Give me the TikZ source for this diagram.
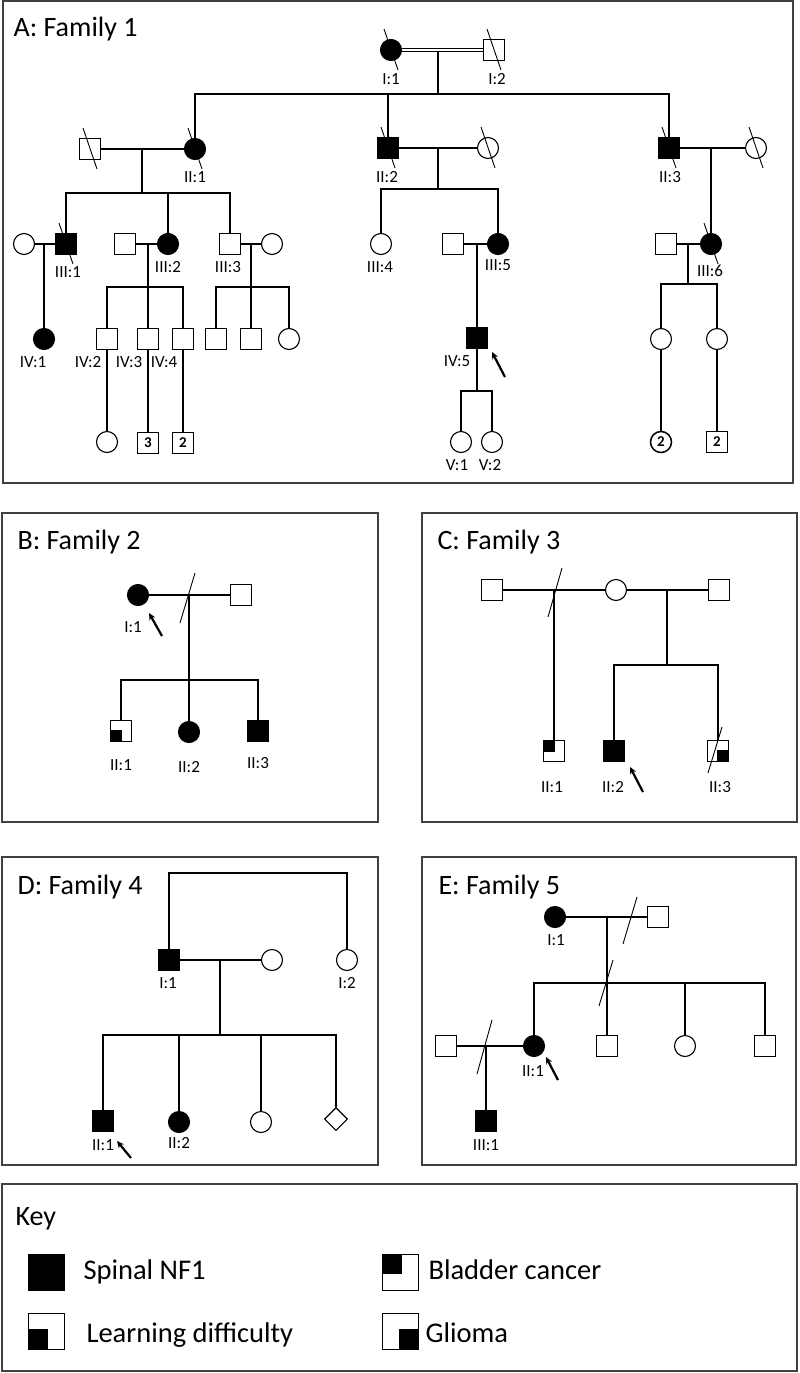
\documentclass[tikz,border=0pt]{standalone}
\usepackage{fontspec}
\setmainfont{Carlito}
\usetikzlibrary{calc,arrows.meta,shapes.geometric}
\newcommand{\deadmark}[1]{\draw[slash] ([shift={(-7,-21)}]#1.center) -- ([shift={(7,20)}]#1.center);}
\newcommand{\ldfill}[1]{\fill (#1.south west) rectangle ($(#1.south west)!0.55!(#1.north east)$);}
\newcommand{\bcfill}[1]{\fill (#1.north west) rectangle ($(#1.north west)!0.55!(#1.south east)$);}
\newcommand{\glfill}[1]{\fill (#1.south east) rectangle ($(#1.south east)!0.55!(#1.north west)$);}
\begin{document}
\begin{tikzpicture}[x=1pt,y=-1pt,line width=1.1pt,
  male/.style={draw,rectangle,minimum size=21pt,inner sep=0pt,fill=white},
  female/.style={draw,circle,minimum size=21pt,inner sep=0pt,fill=white},
  unk/.style={draw,diamond,shape aspect=1,minimum size=23pt,inner sep=0pt,fill=white},
  aff/.style={fill=black},
  keysq/.style={draw,rectangle,minimum size=36pt,inner sep=0pt,line width=0.9pt,fill=white},
  lbl/.style={font=\fontsize{17}{18}\selectfont,inner sep=0pt},
  ttl/.style={font=\fontsize{28}{30}\selectfont,inner sep=0pt,anchor=base west},
  keytxt/.style={font=\fontsize{28.5}{30}\selectfont,inner sep=0pt,anchor=base west},
  cnt/.style={font=\bfseries\fontsize{15}{16}\selectfont},
  frame/.style={draw=black!75,line width=1.4pt},
  slash/.style={line width=0.9pt},
  proband/.style={line width=2.2pt,-{Stealth[length=7pt,width=6.5pt]}}
]
\useasboundingbox (0,0) rectangle (800,1373);
\fill[white] (0,0) rectangle (800,1373);

% ---------------- frames ----------------
\draw[frame] (3,1) rectangle (793,483);
\draw[frame] (2,513) rectangle (378,822);
\draw[frame] (422,513) rectangle (797,822);
\draw[frame] (2,857) rectangle (378,1165);
\draw[frame] (422,857) rectangle (796,1165);
\draw[frame] (2,1184) rectangle (797,1371);

% ---------------- titles ----------------
\node[ttl] (tA) at (13,36) {A: Family 1};
\node[ttl] (tB) at (17,549) {B: Family 2};
\node[ttl] (tC) at (437,549) {C: Family 3};
\node[ttl] (tD) at (17,894) {D: Family 4};
\node[ttl] (tE) at (438,894) {E: Family 5};
\node[ttl] (tK) at (15,1225) {Key};

% ================= Panel A =================
\node[female,aff] (A-I1) at (391,50) {};
\node[male] (A-I2) at (494,50) {};
\draw[double,double distance=2.6pt,line width=0.9pt] (A-I1) -- (A-I2);
\coordinate (A-m1) at (438,52);
\coordinate (A-s1) at (438,94);
\draw (A-m1) -- (A-s1);
\node[female,aff] (A-II1) at (195,149) {};
\node[male,aff] (A-II2) at (388,148) {};
\node[male,aff] (A-II3) at (669,148) {};
\draw (A-II1) |- (A-s1) -| (A-II3);
\draw (A-s1 -| A-II2) -- (A-II2);

\node[male] (A-H1) at (90,149) {};
\draw (A-H1) -- (A-II1);
\coordinate (A-m2) at (142,149);
\coordinate (A-s2) at (142,193);
\draw (A-m2) -- (A-s2);
\node[female] (A-W31) at (24,244) {};
\node[male,aff] (A-III1) at (66,244) {};
\node[male] (A-H32) at (125,244) {};
\node[female,aff] (A-III2) at (168,244) {};
\node[male] (A-III3) at (230,244) {};
\node[female] (A-W33) at (272,244) {};
\draw (A-III1) |- (A-s2) -| (A-III3);
\draw (A-s2 -| A-III2) -- (A-III2);

\node[female] (A-W2) at (488,148) {};
\draw (A-II2) -- (A-W2);
\coordinate (A-m3) at (438,148);
\coordinate (A-s3) at (438,189);
\draw (A-m3) -- (A-s3);
\node[female] (A-III4) at (381,244) {};
\node[female,aff] (A-III5) at (498,244) {};
\draw (A-III4) |- (A-s3) -| (A-III5);

\node[female] (A-W3) at (756,148) {};
\draw (A-II3) -- (A-W3);
\coordinate (A-m4) at (711,148);
\node[female,aff] (A-III6) at (711,244) {};
\draw (A-m4) -- (A-III6);

\draw (A-W31) -- (A-III1);
\coordinate (A-m5) at (44,244);
\node[female,aff] (A-IV1) at (44,339) {};
\draw (A-m5) -- (A-IV1);

\draw (A-H32) -- (A-III2);
\coordinate (A-m6) at (148,244);
\coordinate (A-s6) at (148,287);
\draw (A-m6) -- (A-s6);
\node[male] (A-IV2) at (107,339) {};
\node[male] (A-IV3) at (148,339) {};
\node[male] (A-IV4) at (183,339) {};
\draw (A-IV2) |- (A-s6) -| (A-IV4);
\draw (A-s6) -- (A-IV3);

\draw (A-III3) -- (A-W33);
\coordinate (A-m7) at (251,244);
\coordinate (A-s7) at (251,287);
\draw (A-m7) -- (A-s7);
\node[male] (A-c71) at (216,339) {};
\node[male] (A-c72) at (251,339) {};
\node[female] (A-c73) at (289,339) {};
\draw (A-c71) |- (A-s7) -| (A-c73);
\draw (A-s7) -- (A-c72);

\node[male] (A-H35) at (453,244) {};
\draw (A-H35) -- (A-III5);
\coordinate (A-m8) at (477,244);
\node[male,aff] (A-IV5) at (477,338) {};
\draw (A-m8) -- (A-IV5);
\coordinate (A-s8) at (477,391);
\draw (A-IV5) -- (A-s8);
\node[female] (A-V1) at (461,442) {};
\node[female] (A-V2) at (492,442) {};
\draw (A-V1) |- (A-s8) -| (A-V2);

\node[male] (A-H36) at (666,244) {};
\draw (A-H36) -- (A-III6);
\coordinate (A-m9) at (688,244);
\coordinate (A-s9) at (688,284);
\draw (A-m9) -- (A-s9);
\node[female] (A-c91) at (661,339) {};
\node[female] (A-c92) at (717,339) {};
\draw (A-c91) |- (A-s9) -| (A-c92);

\node[female] (A-g1) at (107,442) {};
\draw (A-IV2) -- (A-g1);
\node[male,cnt] (A-g2) at (148,443) {3};
\draw (A-IV3) -- (A-g2);
\node[male,cnt] (A-g3) at (183,443) {2};
\draw (A-IV4) -- (A-g3);
\node[female,cnt,line width=1.5pt] (A-g4) at (661,442) {2};
\draw (A-c91) -- (A-g4);
\node[male,cnt] (A-g5) at (717,442) {2};
\draw (A-c92) -- (A-g5);

\deadmark{A-I1} \deadmark{A-I2} \deadmark{A-II1} \deadmark{A-H1}
\deadmark{A-II2} \deadmark{A-W2} \deadmark{A-II3} \deadmark{A-W3}
\deadmark{A-III1} \deadmark{A-III6}

\coordinate (A-a1) at (505,377);
\coordinate (A-a2) at (492,352);
\draw[proband] (A-a1) -- (A-a2);

\node[lbl] (lA1) at (391,79) {I:1};
\node[lbl] (lA2) at (497,79) {I:2};
\node[lbl] (lA3) at (195,177) {II:1};
\node[lbl] (lA4) at (387,177) {II:2};
\node[lbl] (lA5) at (670,177) {II:3};
\node[lbl] (lA6) at (68,272) {III:1};
\node[lbl] (lA7) at (168,267) {III:2};
\node[lbl] (lA8) at (228,267) {III:3};
\node[lbl] (lA9) at (380,267) {III:4};
\node[lbl] (lA10) at (498,265) {III:5};
\node[lbl] (lA11) at (710,271) {III:6};
\node[lbl] (lA12) at (33,362) {IV:1};
\node[lbl] (lA13) at (88,362) {IV:2};
\node[lbl] (lA14) at (129,362) {IV:3};
\node[lbl] (lA15) at (164,362) {IV:4};
\node[lbl] (lA16) at (457,361) {IV:5};
\node[lbl] (lA17) at (457,465) {V:1};
\node[lbl] (lA18) at (490,465) {V:2};

% ================= Panel B =================
\node[female,aff] (B-I1) at (138,595) {};
\node[male] (B-I2) at (241,595) {};
\draw (B-I1) -- (B-I2);
\coordinate (B-m) at (189,595);
\coordinate (B-s) at (189,680);
\draw (B-m) -- (B-s);
\node[male] (B-II1) at (121,731) {};
\ldfill{B-II1}
\node[female,aff] (B-II2) at (189,732) {};
\node[male,aff] (B-II3) at (258,731) {};
\draw (B-II1) |- (B-s) -| (B-II3);
\draw (B-s) -- (B-II2);
\draw[slash] (195,573) -- (180,623);
\coordinate (B-a1) at (162,636);
\coordinate (B-a2) at (149,613);
\draw[proband] (B-a1) -- (B-a2);
\node[lbl] (lB1) at (133,627) {I:1};
\node[lbl] (lB2) at (121,765) {II:1};
\node[lbl] (lB3) at (189,767) {II:2};
\node[lbl] (lB4) at (258,763) {II:3};

% ================= Panel C =================
\node[male] (C-L) at (492,590) {};
\node[female] (C-C) at (616,590) {};
\node[male] (C-R) at (719,590) {};
\draw (C-L) -- (C-C);
\draw (C-C) -- (C-R);
\coordinate (C-m1) at (554,590);
\node[male] (C-II1) at (554,751) {};
\bcfill{C-II1}
\draw (C-m1) -- (C-II1);
\coordinate (C-m2) at (667,590);
\coordinate (C-s2) at (667,665);
\draw (C-m2) -- (C-s2);
\node[male,aff] (C-II2) at (614,751) {};
\node[male] (C-II3) at (718,751) {};
\glfill{C-II3}
\draw (C-II2) |- (C-s2) -| (C-II3);
\draw[slash] ([shift={(4,-24)}]C-II3.center) -- ([shift={(-10,22)}]C-II3.center);
\draw[slash] (562,568) -- (548,617);
\coordinate (C-a1) at (643,792);
\coordinate (C-a2) at (630,767);
\draw[proband] (C-a1) -- (C-a2);
\node[lbl] (lC1) at (552,787) {II:1};
\node[lbl] (lC2) at (613,787) {II:2};
\node[lbl] (lC3) at (720,787) {II:3};

% ================= Panel D =================
\node[male,aff] (D-I1) at (169,960) {};
\node[female] (D-W) at (272,960) {};
\node[female] (D-I2) at (347,960) {};
\coordinate (D-t) at (258,873);
\draw (D-I1) |- (D-t) -| (D-I2);
\draw (D-I1) -- (D-W);
\coordinate (D-m) at (220,960);
\coordinate (D-s) at (220,1035);
\draw (D-m) -- (D-s);
\node[male,aff] (D-II1) at (103,1121) {};
\node[female,aff] (D-II2) at (179,1122) {};
\node[female] (D-c3) at (261,1122) {};
\node[unk] (D-c4) at (336,1119) {};
\draw (D-II1) |- (D-s) -| (D-c4);
\draw (D-s -| D-II2) -- (D-II2);
\draw (D-s -| D-c3) -- (D-c3);
\coordinate (D-a1) at (131,1158);
\coordinate (D-a2) at (117,1141);
\draw[proband] (D-a1) -- (D-a2);
\node[lbl] (lD1) at (168,983) {I:1};
\node[lbl] (lD2) at (347,983) {I:2};
\node[lbl] (lD3) at (103,1145) {II:1};
\node[lbl] (lD4) at (179,1143) {II:2};

% ================= Panel E =================
\node[female,aff] (E-I1) at (555,917) {};
\node[male] (E-I2) at (658,917) {};
\draw (E-I1) -- (E-I2);
\coordinate (E-m) at (607,917);
\coordinate (E-s) at (607,983);
\node[female,aff] (E-II1) at (534,1046) {};
\node[male] (E-c2) at (607,1046) {};
\node[female] (E-c3) at (685,1046) {};
\node[male] (E-c4) at (765,1046) {};
\draw (E-m) -- (E-c2);
\draw (E-II1) |- (E-s) -| (E-c4);
\draw (E-s -| E-c3) -- (E-c3);
\draw[slash] (637,897) -- (623,944);
\draw[slash] (613,960) -- (599,1006);
\node[male] (E-H2) at (446,1046) {};
\draw (E-H2) -- (E-II1);
\coordinate (E-m2) at (486,1046);
\node[male,aff] (E-III1) at (486,1121) {};
\draw (E-m2) -- (E-III1);
\draw[slash] (492,1020) -- (477,1074);
\coordinate (E-a1) at (558,1080);
\coordinate (E-a2) at (546,1057);
\draw[proband] (E-a1) -- (E-a2);
\node[lbl] (lE1) at (556,940) {I:1};
\node[lbl] (lE2) at (533,1071) {II:1};
\node[lbl] (lE3) at (486,1145) {III:1};

% ================= Key =================
\node[keysq,aff] (K-sp) at (46,1272) {};
\node[keysq] (K-bc) at (400.5,1272) {};
\bcfill{K-bc}
\node[keysq] (K-ld) at (46,1331) {};
\ldfill{K-ld}
\node[keysq] (K-gl) at (400.5,1331) {};
\glfill{K-gl}
\node[keytxt] (kt1) at (83,1279) {Spinal NF1};
\node[keytxt] (kt2) at (428,1279) {Bladder cancer};
\node[keytxt] (kt3) at (86,1342) {Learning difficulty};
\node[keytxt] (kt4) at (425,1342) {Glioma};
\end{tikzpicture}
\end{document}
